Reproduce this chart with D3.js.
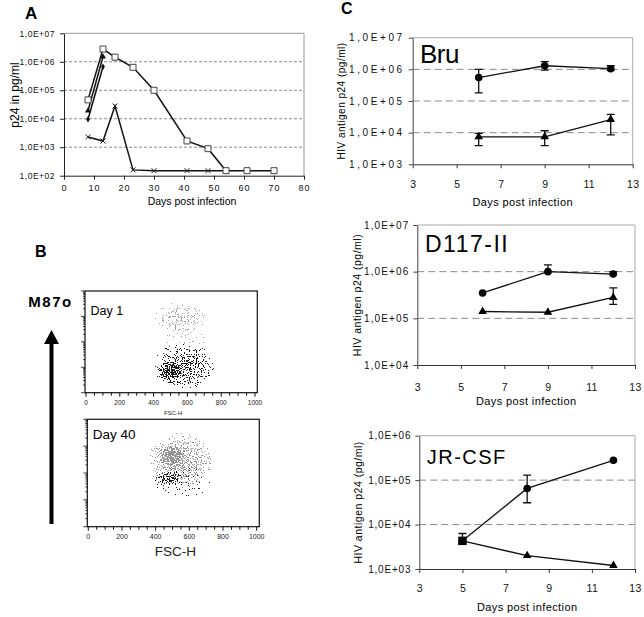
<!DOCTYPE html>
<html>
<head>
<meta charset="utf-8">
<title>p24 / HIV antigen figure</title>
<script src="https://cdn.jsdelivr.net/npm/d3@7"></script>
<style>
  body { margin: 0; background: #fff; }
  svg { display: block; font-family: Arial, "Liberation Sans", Helvetica, sans-serif; }
</style>
</head>
<body>
<div id="fig"></div>
<script>
// ---- Panel A: p24 (pg/ml) vs days post infection ----
const aSquareDays = [8, 13, 17, 23, 30, 41, 48, 54, 61, 70];
const aSquareP24 = [4.6e4, 2.8e6, 1.45e6, 6.4e5, 1.0e5, 1.66e3, 890, 150, 150, 150];
const aTriDays = [8, 13];
const aTriP24 = [1.9e4, 1.5e6];
const aDiamondDays = [8, 13];
const aDiamondP24 = [9.6e3, 6.7e5];
const aCrossDays = [8, 13, 17, 23, 30, 41, 48, 54];
const aCrossP24 = [2.3e3, 1.65e3, 2.8e4, 160, 150, 150, 150, 150];
const aXTicks = [0, 10, 20, 30, 40, 50, 60, 70, 80];
const aYTicks = [1e2, 1e3, 1e4, 1e5, 1e6, 1e7];

// ---- Panel B: flow cytometry populations (FSC-H, log10 of M87o signal, spread) ----
const bFscTicks = [0, 200, 400, 600, 800, 1000];
const day1Pops = [
  { fsc: 560, logF: 2.95, rFsc: 150, rLog: 0.6, dens: 0.33, tone: "light" },
  { fsc: 580, logF: 2.1, rFsc: 120, rLog: 0.45, dens: 0.1, tone: "light" },
  { fsc: 580, logF: 1.05, rFsc: 180, rLog: 0.9, dens: 0.45, tone: "dark" },
  { fsc: 505, logF: 0.85, rFsc: 95, rLog: 0.5, dens: 0.8, tone: "dark" }
];
const day40Pops = [
  { fsc: 550, logF: 2.45, rFsc: 200, rLog: 1.05, dens: 0.5, tone: "gray" },
  { fsc: 500, logF: 2.6, rFsc: 110, rLog: 0.55, dens: 0.85, tone: "gray" },
  { fsc: 560, logF: 1.65, rFsc: 170, rLog: 0.55, dens: 0.12, tone: "dark" },
  { fsc: 485, logF: 1.82, rFsc: 90, rLog: 0.28, dens: 0.6, tone: "dark" }
];

// ---- Panel C: HIV antigen p24 (pg/ml), circles and triangles with error bars ----
const cXTicks = [3, 5, 7, 9, 11, 13];
const bruDays = [6, 9, 12];
const bruCircle = [5.5e5, 1.3e6, 1.05e6];
const bruCircleHi = [1.0e6, 1.75e6, 1.3e6];
const bruCircleLo = [1.8e5, 9.5e5, 9.5e5];
const bruTri = [7.4e3, 7.4e3, 2.6e4];
const bruTriHi = [9.5e3, 1.15e4, 3.8e4];
const bruTriLo = [3.9e3, 3.9e3, 8.5e3];

const d117Days = [6, 9, 12];
const d117Circle = [3.5e5, 1.0e6, 8.9e5];
const d117CircleHi = [3.5e5, 1.4e6, 1.0e6];
const d117CircleLo = [3.5e5, 1.0e6, 8.9e5];
const d117Tri = [1.4e5, 1.35e5, 2.8e5];
const d117TriHi = [1.4e5, 1.35e5, 4.5e5];
const d117TriLo = [1.4e5, 1.35e5, 2.0e5];

const jrDays = [5, 8, 12];
const jrCircle = [4.3e3, 6.5e4, 2.8e5];
const jrCircleHi = [6.3e3, 1.3e5, 2.8e5];
const jrCircleLo = [4.3e3, 3.1e4, 2.8e5];
const jrTri = [4.3e3, 2.0e3, 1.2e3];
const jrTriHi = [4.3e3, 2.0e3, 1.2e3];
const jrTriLo = [4.3e3, 2.0e3, 1.2e3];
const jrSharedDay = 5;

const W = 644, H = 617;
const svg = d3.select("#fig").append("svg")
  .attr("width", W).attr("height", H)
  .attr("viewBox", `0 0 ${W} ${H}`);
const defs = svg.append("defs");

const expLabel = d => "1,0E+" + String(Math.round(Math.log10(d))).padStart(2, "0");

function styleAxis(g, color, fontSize, spacing) {
  g.select(".domain").attr("stroke", color).attr("stroke-width", 1);
  g.selectAll(".tick line").attr("stroke", color);
  g.selectAll(".tick text")
    .attr("fill", "#111")
    .style("font-size", fontSize + "px")
    .style("letter-spacing", spacing + "px");
}

// ================= Panel A =================
{
  const x = d3.scaleLinear().domain([0, 80]).range([64, 304]);
  const y = d3.scaleLog().domain([1e2, 1e7]).range([175.7, 33.3]);
  const g = svg.append("g");

  // dashed gridlines
  g.selectAll("line.grid").data(aYTicks.slice(1, -1)).join("line")
    .attr("x1", x(0)).attr("x2", x(80))
    .attr("y1", d => y(d)).attr("y2", d => y(d))
    .attr("stroke", "#8a8a8a").attr("stroke-dasharray", "3,2");
  // top and right border
  g.append("path")
    .attr("d", `M${x(0)},${y(1e7)}H${x(80)}V${y(1e2)}`)
    .attr("fill", "none").attr("stroke", "#999");

  const ax = g.append("g").attr("transform", `translate(0,${y(1e2)})`)
    .call(d3.axisBottom(x).tickValues(aXTicks).tickSize(4).tickPadding(5).tickSizeOuter(0));
  styleAxis(ax, "#222", 9, 1);
  const ay = g.append("g").attr("transform", `translate(${x(0)},0)`)
    .call(d3.axisLeft(y).tickValues(aYTicks).tickSize(4).tickPadding(5).tickFormat(expLabel).tickSizeOuter(0));
  styleAxis(ay, "#222", 8.5, 0.5);

  const line = d3.line().x(d => x(d[0])).y(d => y(d[1]));
  const series = [
    d3.zip(aSquareDays, aSquareP24),
    d3.zip(aTriDays, aTriP24),
    d3.zip(aDiamondDays, aDiamondP24),
    d3.zip(aCrossDays, aCrossP24)
  ];
  g.selectAll("path.ser").data(series).join("path")
    .attr("d", line).attr("fill", "none")
    .attr("stroke", "#111").attr("stroke-width", 1.5);

  // markers
  g.selectAll("path.cross").data(series[3]).join("path")
    .attr("transform", d => `translate(${x(d[0])},${y(d[1])})`)
    .attr("d", "M-2.5,-2.5L2.5,2.5M-2.5,2.5L2.5,-2.5")
    .attr("stroke", "#222").attr("stroke-width", 1);
  g.selectAll("path.dia").data(series[2]).join("path")
    .attr("transform", d => `translate(${x(d[0])},${y(d[1])})`)
    .attr("d", d3.symbol(d3.symbolDiamond, 12)).attr("fill", "#111");
  g.selectAll("path.tri").data(series[1]).join("path")
    .attr("transform", d => `translate(${x(d[0])},${y(d[1])})`)
    .attr("d", d3.symbol(d3.symbolTriangle, 16)).attr("fill", "#111");
  g.selectAll("path.sq").data(series[0]).join("path")
    .attr("transform", d => `translate(${x(d[0])},${y(d[1])})`)
    .attr("d", d3.symbol(d3.symbolSquare, 36))
    .attr("fill", "#fff").attr("stroke", "#444").attr("stroke-width", 1);

  g.append("text").attr("x", 192).attr("y", 205).attr("text-anchor", "middle")
    .style("font-size", "10.5px").text("Days post infection");
  g.append("text").attr("transform", "translate(19,95) rotate(-90)")
    .attr("text-anchor", "middle").style("font-size", "12px").text("p24 in pg/ml");
  svg.append("text").attr("x", 25).attr("y", 18.5)
    .style("font-size", "17px").style("font-weight", "bold").text("A");
}

// ================= Panel B =================
function makeStipple(id, color, seed) {
  const f = defs.append("filter").attr("id", id)
    .attr("filterUnits", "userSpaceOnUse")
    .attr("x", 0).attr("y", 0).attr("width", W).attr("height", H)
    .attr("color-interpolation-filters", "sRGB");
  f.append("feTurbulence").attr("type", "fractalNoise")
    .attr("baseFrequency", 0.85).attr("numOctaves", 1).attr("seed", seed)
    .attr("result", "noise");
  f.append("feColorMatrix").attr("in", "noise").attr("type", "matrix")
    .attr("values", "0 0 0 0 0  0 0 0 0 0  0 0 0 0 0  1 0 0 0 0")
    .attr("result", "na0");
  f.append("feComponentTransfer").attr("in", "na0").attr("result", "na")
    .append("feFuncA").attr("type", "linear").attr("slope", 2.5).attr("intercept", -0.75);
  f.append("feComposite").attr("in", "SourceGraphic").attr("in2", "na")
    .attr("operator", "arithmetic")
    .attr("k1", 0).attr("k2", 1).attr("k3", -1).attr("k4", 0.49)
    .attr("result", "diff");
  f.append("feComponentTransfer").attr("in", "diff").attr("result", "mask")
    .append("feFuncA").attr("type", "discrete").attr("tableValues", "0 1");
  f.append("feFlood").attr("flood-color", color).attr("result", "col");
  f.append("feComposite").attr("in", "col").attr("in2", "mask").attr("operator", "in");
}
makeStipple("stip-light", "#a6a6a6", 11);
makeStipple("stip-gray", "#959595", 7);
makeStipple("stip-dark", "#1a1a1a", 23);

function drawFacs(L, pops, id) {
  const x = d3.scaleLinear().domain([0, 1000]).range([L.x0, L.x1]);
  const y = d3.scaleLog().domain([1, 1e4]).range([L.bottom, L.top]);
  const g = svg.append("g");

  defs.append("clipPath").attr("id", "clip-" + id)
    .append("rect").attr("x", L.left).attr("y", L.top)
    .attr("width", L.right - L.left).attr("height", L.bottom - L.top);
  const cloud = g.append("g").attr("clip-path", `url(#clip-${id})`);

  pops.forEach((p, i) => {
    const gid = `grad-${id}-${i}`;
    const grad = defs.append("radialGradient").attr("id", gid);
    grad.append("stop").attr("offset", 0).attr("stop-color", "#000").attr("stop-opacity", p.dens);
    grad.append("stop").attr("offset", 0.55).attr("stop-color", "#000").attr("stop-opacity", p.dens * 0.7);
    grad.append("stop").attr("offset", 1).attr("stop-color", "#000").attr("stop-opacity", 0.02);
    const cx = x(p.fsc), cy = y(Math.pow(10, p.logF));
    cloud.append("g").attr("filter", `url(#stip-${p.tone})`)
      .append("ellipse")
      .attr("cx", cx).attr("cy", cy)
      .attr("rx", x(p.fsc + p.rFsc) - cx)
      .attr("ry", cy - y(Math.pow(10, p.logF + p.rLog)))
      .attr("fill", `url(#${gid})`);
  });

  g.append("rect").attr("x", L.left).attr("y", L.top)
    .attr("width", L.right - L.left).attr("height", L.bottom - L.top)
    .attr("fill", "none").attr("stroke", "#111").attr("stroke-width", 1.2);

  // bottom ticks every 50
  g.selectAll("line.xt").data(d3.range(0, 1001, 50)).join("line")
    .attr("x1", d => x(d)).attr("x2", d => x(d))
    .attr("y1", L.bottom).attr("y2", d => L.bottom + (d % 200 === 0 ? 4 : 3))
    .attr("stroke", "#111");
  g.selectAll("text.xl").data(bFscTicks).join("text")
    .attr("x", d => x(d)).attr("y", L.tickBase)
    .attr("text-anchor", "middle").style("font-size", L.tickSize + "px")
    .attr("fill", "#222")
    .text(d => d);

  // left log ticks
  const yt = [];
  for (let e = 0; e < 4; e++) for (let m = 1; m < 10; m++) yt.push(m * Math.pow(10, e));
  yt.push(1e4);
  g.selectAll("line.yt").data(yt).join("line")
    .attr("x1", L.left).attr("x2", d => L.left - (Math.log10(d) % 1 === 0 ? 4 : 2))
    .attr("y1", d => y(d)).attr("y2", d => y(d))
    .attr("stroke", "#111").attr("stroke-width", 0.8);

  g.append("text").attr("x", L.left + 5.5).attr("y", L.labelBase)
    .style("font-size", L.labelSize + "px").text(L.label);
  g.append("text").attr("x", (L.left + L.right) / 2 + 2).attr("y", L.titleBase)
    .attr("text-anchor", "middle").style("font-size", L.titleSize + "px")
    .attr("fill", "#222").text("FSC-H");
}

drawFacs({ left: 85, right: 257.3, top: 291, bottom: 392.7, x0: 86, x1: 255,
  tickBase: 405, tickSize: 6.5, titleBase: 415, titleSize: 6,
  label: "Day 1", labelBase: 315, labelSize: 12.5 }, day1Pops, "d1");
drawFacs({ left: 87.3, right: 259.3, top: 419.3, bottom: 526.7, x0: 88.3, x1: 256.7,
  tickBase: 538.5, tickSize: 7, titleBase: 556, titleSize: 13.5,
  label: "Day 40", labelBase: 439, labelSize: 13.5 }, day40Pops, "d40");

svg.append("text").attr("x", 35).attr("y", 257)
  .style("font-size", "16px").style("font-weight", "bold").text("B");
svg.append("text").attr("x", 50.5).attr("y", 307).attr("text-anchor", "middle")
  .style("font-size", "15px").style("font-weight", "bold").style("letter-spacing", "1.5px")
  .text("M87o");
svg.append("path")
  .attr("d", "M51.5,330L59,344L53.5,344L53.5,524L49.5,524L49.5,344L44,344Z")
  .attr("fill", "#000");

// ================= Panel C =================
const cPanels = [
  { name: "Bru", days: bruDays, circ: bruCircle, circHi: bruCircleHi, circLo: bruCircleLo,
    tri: bruTri, triHi: bruTriHi, triLo: bruTriLo, yDomain: [1e3, 1e7] },
  { name: "D117-II", days: d117Days, circ: d117Circle, circHi: d117CircleHi, circLo: d117CircleLo,
    tri: d117Tri, triHi: d117TriHi, triLo: d117TriLo, yDomain: [1e4, 1e7] },
  { name: "JR-CSF", days: jrDays, circ: jrCircle, circHi: jrCircleHi, circLo: jrCircleLo,
    tri: jrTri, triHi: jrTriHi, triLo: jrTriLo, yDomain: [1e3, 1e6], shared: jrSharedDay }
];
const cLayout = [
  { left: 412.7, right: 632.7, top: 37.7, bottom: 164.3, yTickSpacing: 2.6, xPad: 12,
    titleBase: 206, yTitleX: 341, yTitleSize: 10, labelX: 420, labelBase: 63.3, labelSize: 26, labelSpacing: -0.5 },
  { left: 417.3, right: 635, top: 225, bottom: 365, yTickSpacing: 1.1, xPad: 15,
    titleBase: 404.5, yTitleX: 357, yTitleSize: 10.5, labelX: 425, labelBase: 251.7, labelSize: 23, labelSpacing: 1.5 },
  { left: 419.3, right: 635, top: 435.7, bottom: 569, yTickSpacing: 0.8, xPad: 11.6,
    titleBase: 611, yTitleX: 358, yTitleSize: 10.5, labelX: 426.7, labelBase: 463.5, labelSize: 20, labelSpacing: 1.5 }
];

function decades(lo, hi) {
  const out = [];
  for (let e = Math.round(Math.log10(lo)); e <= Math.round(Math.log10(hi)); e++) out.push(Math.pow(10, e));
  return out;
}

cPanels.forEach((p, i) => {
  const L = cLayout[i];
  const x = d3.scaleLinear().domain([3, 13]).range([L.left, L.right]);
  const y = d3.scaleLog().domain(p.yDomain).range([L.bottom, L.top]);
  const g = svg.append("g");
  const ticks = decades(p.yDomain[0], p.yDomain[1]);

  g.selectAll("line.grid").data(ticks.slice(1, -1)).join("line")
    .attr("x1", L.left).attr("x2", L.right)
    .attr("y1", d => y(d)).attr("y2", d => y(d))
    .attr("stroke", "#8a8a8a").attr("stroke-dasharray", "7,4");
  g.append("path")
    .attr("d", `M${L.left},${L.top}H${L.right}V${L.bottom}`)
    .attr("fill", "none").attr("stroke", "#aaa");

  const ax = g.append("g").attr("transform", `translate(0,${L.bottom})`)
    .call(d3.axisBottom(x).tickValues(cXTicks).tickSize(4).tickPadding(L.xPad).tickSizeOuter(0));
  styleAxis(ax, "#333", 10.5, 0.3);
  const ay = g.append("g").attr("transform", `translate(${L.left},0)`)
    .call(d3.axisLeft(y).tickValues(ticks).tickSize(4).tickPadding(4).tickFormat(expLabel).tickSizeOuter(0));
  styleAxis(ay, "#444", 10, L.yTickSpacing);

  const line = d3.line().x(d => x(d[0])).y(d => y(d[1]));
  const circ = p.days.map((d, k) => ({ day: d, v: p.circ[k], hi: p.circHi[k], lo: p.circLo[k] }));
  const tri = p.days.map((d, k) => ({ day: d, v: p.tri[k], hi: p.triHi[k], lo: p.triLo[k] }));

  [circ, tri].forEach(s => {
    g.append("path").datum(s.map(d => [d.day, d.v])).attr("d", line)
      .attr("fill", "none").attr("stroke", "#111").attr("stroke-width", 1.3);
    const eb = s.filter(d => d.hi > d.v || d.lo < d.v);
    g.selectAll(null).data(eb).join("path")
      .attr("d", d => {
        const cx = x(d.day), y1 = y(d.hi), y0 = y(d.lo);
        return `M${cx},${y0}V${y1}M${cx - 4},${y1}H${cx + 4}M${cx - 4},${y0}H${cx + 4}`;
      })
      .attr("fill", "none").attr("stroke", "#111").attr("stroke-width", 1.3);
  });

  g.selectAll(null).data(circ.filter(d => d.day !== p.shared)).join("circle")
    .attr("cx", d => x(d.day)).attr("cy", d => y(d.v)).attr("r", 3.8).attr("fill", "#000");
  g.selectAll(null).data(tri.filter(d => d.day !== p.shared)).join("path")
    .attr("transform", d => `translate(${x(d.day)},${y(d.v)})`)
    .attr("d", d3.symbol(d3.symbolTriangle, 32)).attr("fill", "#000");
  if (p.shared !== undefined) {
    const k = p.days.indexOf(p.shared);
    g.append("path")
      .attr("transform", `translate(${x(p.shared)},${y(p.circ[k])})`)
      .attr("d", d3.symbol(d3.symbolSquare, 72)).attr("fill", "#000");
  }

  g.append("text").attr("x", L.labelX).attr("y", L.labelBase)
    .style("font-size", L.labelSize + "px").style("letter-spacing", L.labelSpacing + "px")
    .text(p.name);
  g.append("text").attr("x", (L.left + L.right) / 2).attr("y", L.titleBase)
    .attr("text-anchor", "middle").style("font-size", "11px").style("letter-spacing", "0.4px")
    .text("Days post infection");
  g.append("text").attr("transform", `translate(${L.yTitleX + 3.5},${(L.top + L.bottom) / 2}) rotate(-90)`)
    .attr("text-anchor", "middle").style("font-size", L.yTitleSize + "px").style("letter-spacing", "0.5px")
    .text("HIV antigen p24 (pg/ml)");
});

svg.append("text").attr("x", 341).attr("y", 13.5)
  .style("font-size", "16px").style("font-weight", "bold").text("C");
</script>
</body>
</html>
